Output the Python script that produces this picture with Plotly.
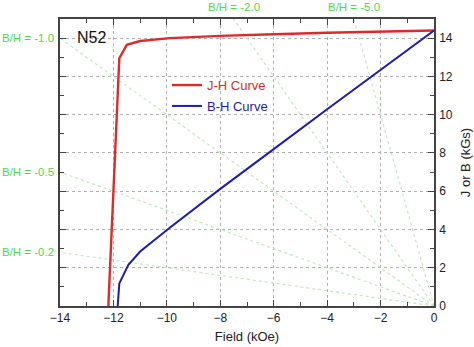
import plotly.graph_objects as go

# Demagnetization curves for an N52 NdFeB grade (second quadrant)
field_jh = [0, -2, -4, -6, -8, -9.88, -11, -11.5, -11.78, -12.19]
polar_j = [14.4, 14.35, 14.28, 14.2, 14.12, 14.0, 13.85, 13.65, 12.95, 0]

field_bh = [0, -2, -4, -6, -8, -9.88, -11, -11.44, -11.78, -11.84]
induction_b = [14.4, 12.35, 10.28, 8.2, 6.12, 4.1, 2.85, 2.15, 1.18, 0]

# Permeance (load) lines B/H
load_slopes = [-0.2, -0.5, -1.0, -2.0, -5.0]

x_range = [-14, 0]
y_range = [0, 15]

RED = "#dd2b2b"
BLUE = "#1c1cb0"
GREEN_TXT = "#4cd94c"
GREEN_LINE = "#bfe9bf"
FONT = "Liberation Sans, Arial, sans-serif"

fig = go.Figure()

annotations = []
for k in load_slopes:
    fig.add_trace(go.Scatter(
        x=[0, x_range[0]], y=[0, k * x_range[0]],
        mode="lines", line=dict(color=GREEN_LINE, width=1.2, dash="dot"),
        showlegend=False, hoverinfo="skip"))
    label = f"B/H = {k:.1f}"
    edge_b = k * x_range[0]
    if edge_b <= y_range[1]:
        annotations.append(dict(
            text=label, xref="paper", yref="y", x=-0.012, y=edge_b,
            xanchor="right", yanchor="middle", showarrow=False,
            font=dict(family=FONT, size=11.5, color=GREEN_TXT)))
    else:
        annotations.append(dict(
            text=label, xref="x", yref="paper", x=y_range[1] / k, y=1.042,
            xanchor="center", yanchor="middle", showarrow=False,
            font=dict(family=FONT, size=11.5, color=GREEN_TXT)))

fig.add_trace(go.Scatter(
    x=field_jh, y=polar_j, mode="lines",
    line=dict(color=RED, width=2.4),
    name=f"<span style='color:{RED}'>J-H Curve</span>", legendgroup="j"))
fig.add_trace(go.Scatter(
    x=field_bh, y=induction_b, mode="lines",
    line=dict(color=BLUE, width=2),
    name=f"<span style='color:{BLUE}'>B-H Curve</span>", legendgroup="b"))

annotations.append(dict(
    text="N52", xref="paper", yref="paper", x=0.04, y=0.934,
    xanchor="left", yanchor="middle", showarrow=False,
    font=dict(family=FONT, size=16, color="#111")))

axis_common = dict(
    showline=True, linecolor="#444", linewidth=1.5, mirror="ticks",
    ticks="inside", ticklen=6, tickcolor="#444", tickwidth=1.2,
    showgrid=True, gridcolor="#b0b0b0", griddash="dot", gridwidth=1,
    zeroline=False, automargin=False,
    tickfont=dict(family=FONT, size=12, color="#222"),
    minor=dict(ticks="inside", ticklen=4, tickcolor="#444", dtick=1,
               showgrid=False),
)

fig.update_layout(
    width=474, height=347,
    margin=dict(l=60, r=40, t=19, b=41),
    paper_bgcolor="white", plot_bgcolor="white",
    font=dict(family=FONT, size=12, color="#222"),
    showlegend=True,
    legend=dict(x=0.286, y=0.822, xanchor="left", yanchor="top",
                bgcolor="rgba(0,0,0,0)", tracegroupgap=1,
                font=dict(family=FONT, size=13)),
    annotations=annotations,
    xaxis=dict(range=x_range, dtick=2, tick0=0, ticklabelstandoff=0,
               title=dict(text="Field (kOe)", standoff=8,
                          font=dict(family=FONT, size=13, color="#222")),
               **axis_common),
    yaxis=dict(range=y_range, dtick=2, tick0=0, side="right",
               ticklabelstandoff=1,
               title=dict(text="J or B (kGs)", standoff=9,
                          font=dict(family=FONT, size=13, color="#222")),
               **axis_common),
)

fig.write_html("out.html")
